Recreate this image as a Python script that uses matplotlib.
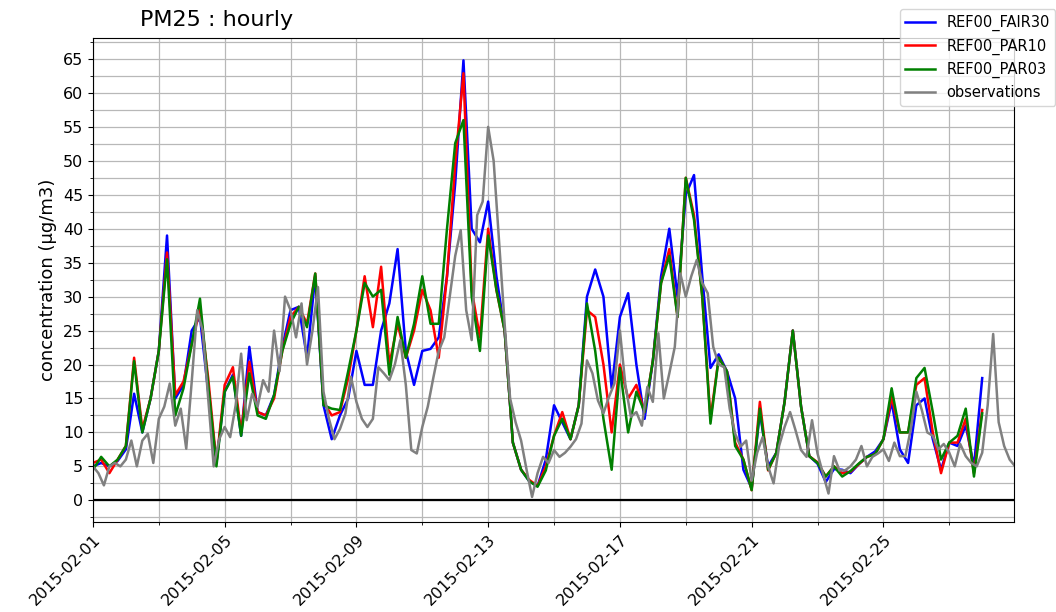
import numpy as np
import pandas as pd
import matplotlib
matplotlib.use("Agg")
import matplotlib.pyplot as plt
import matplotlib.dates as mdates
from matplotlib.ticker import MultipleLocator

# model runs, one value every 6 hours from 2015-02-01 00:00
fair30 = [5.0, 5.5, 5.0, 5.8, 7.5, 15.7, 10.0, 15.0, 22.0, 39.0, 15.0, 17.0,
          25.0, 27.0, 16.0, 5.5, 16.0, 18.5, 9.5, 22.6, 13.0, 12.5, 15.5, 22.6,
          28.0, 28.5, 21.0, 33.0, 14.0, 9.0, 12.5, 15.0, 22.0, 17.0, 17.0, 25.0,
          29.0, 37.0, 22.0, 17.0, 22.0, 22.3, 24.0, 33.0, 46.7, 64.8, 40.0, 38.0,
          44.0, 33.0, 25.0, 8.5, 4.5, 2.8, 2.1, 6.0, 14.0, 11.5, 9.0, 14.0,
          30.0, 34.0, 30.0, 16.5, 27.0, 30.5, 20.0, 12.0, 20.5, 33.0, 40.0, 30.0,
          45.0, 47.9, 33.0, 19.5, 21.5, 19.0, 15.0, 4.5, 1.8, 13.0, 5.0, 7.0,
          14.5, 25.0, 13.8, 6.5, 5.4, 2.7, 4.6, 4.5, 4.0, 5.3, 6.4, 7.2,
          9.0, 14.5, 7.5, 5.5, 14.0, 15.0, 9.0, 4.5, 8.5, 8.0, 11.0, 5.0, 18.0]
par10 = [5.5, 6.0, 4.0, 6.0, 8.0, 21.0, 10.5, 15.0, 22.0, 36.5, 15.5, 17.5,
         23.0, 28.2, 18.0, 5.5, 17.0, 19.6, 10.0, 20.4, 13.0, 12.5, 15.0, 22.0,
         27.0, 28.5, 26.0, 33.4, 14.5, 12.5, 13.0, 18.0, 25.0, 33.0, 25.5, 34.4,
         20.0, 26.0, 21.0, 25.0, 31.0, 28.0, 21.0, 33.0, 49.6, 62.9, 31.0, 24.0,
         40.0, 31.0, 25.0, 8.5, 4.5, 3.0, 2.1, 5.0, 9.5, 13.0, 9.0, 14.0,
         28.0, 27.0, 20.0, 10.0, 20.0, 15.0, 17.0, 13.0, 20.5, 32.0, 37.0, 27.0,
         47.5, 42.0, 30.0, 12.0, 21.0, 19.0, 8.5, 6.0, 1.5, 14.5, 4.4, 7.0,
         14.5, 25.0, 13.8, 6.5, 5.6, 3.5, 5.0, 4.0, 4.2, 5.3, 6.4, 6.8,
         9.0, 15.2, 10.0, 10.0, 17.0, 18.0, 10.0, 4.0, 8.5, 8.5, 12.0, 4.0, 13.3]
par03 = [4.5, 6.4, 5.0, 6.0, 8.0, 20.5, 10.0, 15.0, 22.0, 35.5, 12.5, 16.5,
         23.0, 29.7, 17.0, 5.0, 16.0, 18.2, 9.5, 18.7, 12.5, 12.0, 15.5, 22.0,
         26.0, 28.5, 25.5, 33.4, 14.0, 13.5, 13.3, 19.0, 25.0, 32.0, 30.0, 31.0,
         18.5, 27.0, 21.0, 26.0, 33.0, 26.0, 26.0, 40.0, 52.6, 56.0, 30.0, 22.0,
         39.0, 31.0, 25.0, 8.5, 4.5, 2.8, 2.0, 4.4, 9.5, 12.0, 9.0, 14.0,
         29.0, 22.0, 12.0, 4.5, 19.5, 10.0, 16.0, 13.0, 20.5, 32.0, 36.0, 27.0,
         47.5, 41.3, 30.0, 11.3, 21.0, 19.0, 8.0, 6.0, 1.5, 13.5, 4.5, 7.0,
         14.5, 25.0, 13.8, 6.5, 5.5, 3.5, 5.0, 3.5, 4.3, 5.4, 6.4, 6.8,
         9.0, 16.5, 10.0, 10.0, 18.0, 19.5, 13.0, 6.0, 8.5, 9.5, 13.5, 3.5, 12.8]

# observations, one value every 4 hours from 2015-02-01 00:00
obs = [5.0, 4.0, 2.2, 5.0, 5.5, 5.0, 6.0, 8.8, 5.0, 8.8, 9.8, 5.5,
       12.0, 13.8, 17.2, 11.0, 13.5, 7.6, 17.5, 28.0, 25.0, 15.0, 5.0, 9.0,
       10.8, 9.3, 14.0, 21.6, 11.8, 15.7, 13.8, 17.7, 16.0, 25.0, 19.0, 30.0,
       28.0, 24.0, 29.0, 20.0, 25.0, 31.4, 16.0, 12.0, 9.0, 10.5, 12.8, 18.2,
       14.5, 12.0, 10.8, 12.0, 19.6, 18.7, 17.7, 20.0, 23.6, 17.0, 7.4, 6.9,
       10.8, 13.8, 18.0, 22.0, 24.0, 30.0, 36.0, 39.8, 28.0, 23.6, 42.0, 44.0,
       55.0, 50.0, 38.0, 26.0, 15.0, 11.5, 8.8, 4.5, 0.5, 4.0, 6.4, 5.5,
       7.4, 6.4, 7.0, 7.9, 9.0, 11.3, 20.6, 18.7, 14.7, 12.8, 15.2, 17.2,
       25.0, 17.0, 12.3, 13.0, 11.0, 16.7, 14.5, 24.6, 15.0, 18.7, 22.6, 33.4,
       30.0, 33.0, 35.4, 32.0, 30.5, 22.6, 20.0, 19.6, 13.5, 9.8, 7.9, 8.8,
       2.9, 7.0, 9.3, 5.0, 2.5, 8.0, 10.8, 13.0, 10.3, 7.4, 6.4, 11.8,
       6.9, 3.9, 1.0, 6.5, 4.4, 4.4, 5.0, 6.0, 8.0, 5.0, 6.4, 6.9,
       7.5, 5.8, 8.5, 6.5, 6.5, 10.5, 16.0, 13.3, 10.0, 9.5, 7.5, 8.3,
       7.0, 5.0, 8.3, 6.5, 5.5, 5.0, 7.0, 14.0, 24.5, 11.5, 8.0, 6.0, 5.0]

labels = ["REF00_FAIR30", "REF00_PAR10", "REF00_PAR03", "observations"]
colors = ["blue", "red", "green", "grey"]

t_mod = pd.date_range("2015-02-01", periods=len(fair30), freq="6h")
t_obs = pd.date_range("2015-02-01", periods=len(obs), freq="4h")

fig = plt.figure(figsize=(10.56, 6.12), dpi=100)
ax = fig.add_axes([0.088, 0.147, 0.872, 0.791])

ax.plot(t_mod, fair30, color=colors[0], lw=1.8, label=labels[0])
ax.plot(t_mod, par10, color=colors[1], lw=1.8, label=labels[1])
ax.plot(t_mod, par03, color=colors[2], lw=1.8, label=labels[2])
ax.plot(t_obs, obs, color=colors[3], lw=1.8, label=labels[3])
ax.axhline(0, color="black", lw=1.6)

ax.set_xlim(pd.Timestamp("2015-02-01"), pd.Timestamp("2015-02-28 23:00"))
ax.set_ylim(-3.2, 68.1)
ax.yaxis.set_major_locator(MultipleLocator(5))
ax.yaxis.set_minor_locator(MultipleLocator(2.5))
ax.xaxis.set_major_locator(mdates.DayLocator(bymonthday=[1, 5, 9, 13, 17, 21, 25]))
ax.xaxis.set_minor_locator(mdates.DayLocator(bymonthday=range(1, 32, 2)))
ax.xaxis.set_major_formatter(mdates.DateFormatter("%Y-%m-%d"))
ax.grid(True, which="both", color="#b8b8b8", lw=0.9)
plt.setp(ax.get_xticklabels(), rotation=45, ha="right", rotation_mode="anchor")
ax.tick_params(labelsize=11.5)
ax.set_ylabel("concentration (µg/m3)", fontsize=13)

fig.text(0.133, 0.967, "PM25 : hourly", fontsize=16, va="center")
fig.legend(loc="upper left", bbox_to_anchor=(0.845, 0.997), fontsize=10.5)

fig.savefig("out.png", dpi=100)
